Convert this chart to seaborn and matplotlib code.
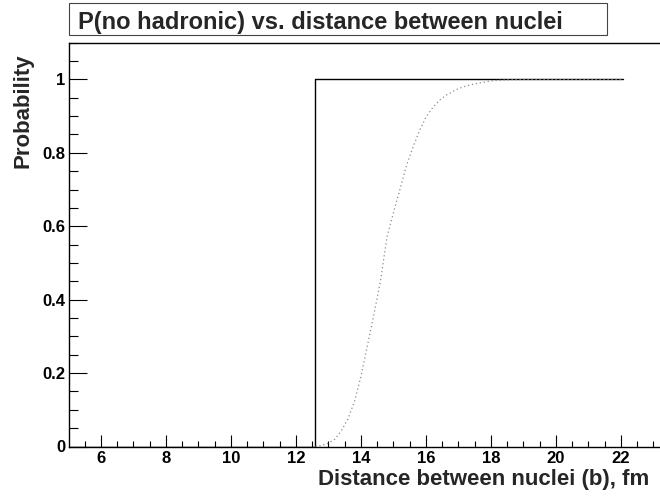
import matplotlib
matplotlib.use("Agg")
import matplotlib.pyplot as plt
import seaborn as sns
from matplotlib.patches import Rectangle
from matplotlib.ticker import MultipleLocator

# ---- data ----
b_curve = [12.6, 12.8, 13.0, 13.2, 13.4, 13.6, 13.8, 14.0, 14.2, 14.4, 14.6, 14.8,
           15.0, 15.2, 15.4, 15.6, 15.8, 16.0, 16.2, 16.4, 16.6, 16.8, 17.0, 17.2,
           17.5, 18.0, 18.5, 19.0, 20.0, 21.0, 22.05]
p_curve = [0.0, 0.003, 0.009, 0.020, 0.043, 0.075, 0.122, 0.19, 0.275, 0.36, 0.45, 0.57,
           0.637, 0.70, 0.765, 0.815, 0.86, 0.897, 0.922, 0.942, 0.956, 0.966, 0.975, 0.981,
           0.988, 0.996, 0.999, 1.0, 1.0, 1.0, 1.0]
b_step = [5.03, 12.6, 12.6, 22.05]
p_step = [0.0, 0.0, 1.0, 1.0]

x_ticks = [6, 8, 10, 12, 14, 16, 18, 20, 22]
x_tick_labels = ['6', '8', '10', '12', '14', '16', '18', '20', '22']
y_ticks = [0, 0.2, 0.4, 0.6, 0.8, 1.0]
y_tick_labels = ['0', '0.2', '0.4', '0.6', '0.8', '1']

title = "P(no hadronic) vs. distance between nuclei"
xlabel = "Distance between nuclei (b), fm"
ylabel = "Probability"

sns.set_style("white")
plt.rcParams['font.family'] = ['Liberation Sans', 'DejaVu Sans']
plt.rcParams['font.weight'] = 'bold'

W, H = 660, 499
fig = plt.figure(figsize=(W / 100, H / 100), dpi=100)
ax_left, ax_bottom, ax_top = 69.3, 446.5, 42.7
ax = fig.add_axes([ax_left / W, (H - ax_bottom) / H, (W - ax_left) / W,
                   (ax_bottom - ax_top) / H])

sns.lineplot(x=b_step, y=p_step, ax=ax, color='black', linewidth=1.0,
             estimator=None, sort=False)
sns.lineplot(x=b_curve, y=p_curve, ax=ax, color='#8c8c8c', linewidth=0.9,
             linestyle=(0, (1, 2.2)), estimator=None)

ax.set_xlim(5.03, 23.2)
ax.set_ylim(0, 1.1)

ax.set_xticks(x_ticks)
ax.set_xticklabels(x_tick_labels)
ax.set_yticks(y_ticks)
ax.set_yticklabels(y_tick_labels)
ax.xaxis.set_minor_locator(MultipleLocator(0.5))
ax.yaxis.set_minor_locator(MultipleLocator(0.05))

ax.tick_params(axis='x', which='both', bottom=True, top=False, direction='in',
               width=0.8, colors='black')
ax.tick_params(axis='y', which='both', left=True, right=False, direction='in',
               width=0.8, colors='black')
ax.tick_params(axis='x', which='major', length=8.4, pad=3, labelsize=12)
ax.tick_params(axis='x', which='minor', length=4.3)
ax.tick_params(axis='y', which='major', length=12.7, pad=3, labelsize=12)
ax.tick_params(axis='y', which='minor', length=6.5)
for lab in ax.get_xticklabels() + ax.get_yticklabels():
    lab.set_fontweight('bold')

for side in ['left', 'bottom', 'top']:
    ax.spines[side].set_color('black')
    ax.spines[side].set_linewidth(1.0)
ax.spines['right'].set_visible(False)

ax_w = W - ax_left
ax_h = ax_bottom - ax_top
ax.set_xlabel(xlabel, loc='right', fontsize=16, fontweight='bold')
ax.set_ylabel(ylabel, loc='top', fontsize=16, fontweight='bold')
ax.xaxis.set_label_coords((649 - ax_left) / ax_w, (ax_bottom - 469) / ax_h)
ax.yaxis.set_label_coords((34 - ax_left) / ax_w, (ax_bottom - 53) / ax_h)

# title box
fig.patches.append(Rectangle((69 / W, (H - 35) / H), 538 / W, 32.3 / H,
                             transform=fig.transFigure, facecolor='white',
                             edgecolor='#444444', linewidth=0.8))
fig.text(78 / W, (H - 28.5) / H, title, fontsize=17, fontweight='bold',
         ha='left', va='baseline')

fig.savefig("out.png", dpi=100)
